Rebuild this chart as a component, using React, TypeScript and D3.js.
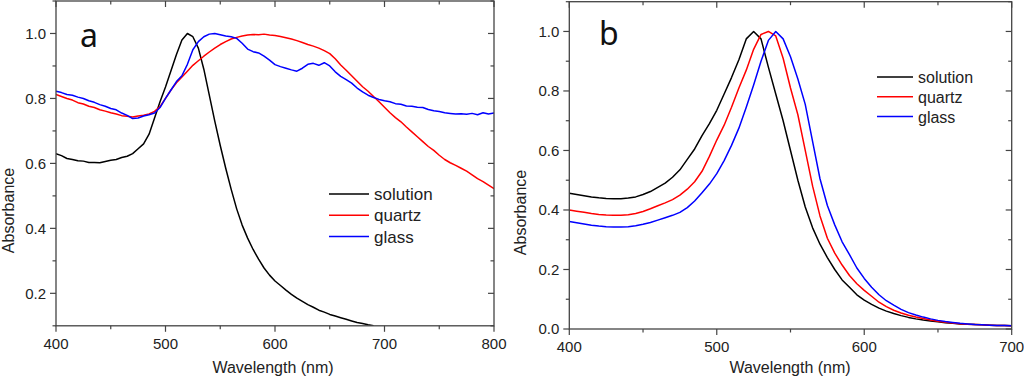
import React from "react";
import * as d3 from "d3";

// ---------- Panel a data (5 nm steps) ----------
const waveA: number[] = d3.range(400, 801, 5);
const waveASolution: number[] = d3.range(400, 691, 5);
const aSolution: number[] = [
  0.630, 0.624, 0.615, 0.612, 0.608, 0.607, 0.603, 0.603, 0.602, 0.606,
  0.610, 0.612, 0.618, 0.622, 0.630, 0.645, 0.660, 0.690, 0.740, 0.790,
  0.835, 0.885, 0.935, 0.980, 1.000, 0.990, 0.955, 0.890, 0.810, 0.730,
  0.655, 0.585, 0.520, 0.460, 0.410, 0.370, 0.335, 0.305, 0.278, 0.256,
  0.238, 0.224, 0.210, 0.197, 0.185, 0.175, 0.165, 0.157, 0.148, 0.142,
  0.135, 0.130, 0.125, 0.120, 0.115, 0.110, 0.107, 0.103, 0.100,
];
const aQuartz: number[] = [
  0.812, 0.806, 0.800, 0.795, 0.787, 0.783, 0.776, 0.772, 0.765, 0.761,
  0.756, 0.752, 0.747, 0.745, 0.743, 0.746, 0.748, 0.752, 0.760, 0.775,
  0.800, 0.826, 0.848, 0.866, 0.884, 0.902, 0.916, 0.930, 0.943, 0.955,
  0.966, 0.975, 0.983, 0.988, 0.992, 0.995, 0.997, 0.996, 0.998, 0.995,
  0.994, 0.991, 0.987, 0.983, 0.978, 0.972, 0.966, 0.961, 0.955, 0.947,
  0.938, 0.922, 0.903, 0.887, 0.870, 0.853, 0.836, 0.822, 0.806, 0.790,
  0.773, 0.756, 0.741, 0.728, 0.712, 0.697, 0.682, 0.667, 0.652, 0.640,
  0.625, 0.612, 0.602, 0.594, 0.585, 0.576, 0.565, 0.553, 0.544, 0.533,
  0.522,
];
const aGlass: number[] = [
  0.822, 0.818, 0.812, 0.810, 0.804, 0.800, 0.793, 0.788, 0.781, 0.776,
  0.769, 0.765, 0.755, 0.748, 0.738, 0.740, 0.746, 0.750, 0.755, 0.772,
  0.800, 0.826, 0.852, 0.870, 0.905, 0.950, 0.975, 0.990, 0.998, 1.000,
  0.996, 0.992, 0.990, 0.985, 0.970, 0.952, 0.944, 0.940, 0.930, 0.918,
  0.904, 0.898, 0.893, 0.888, 0.884, 0.893, 0.905, 0.908, 0.902, 0.910,
  0.900, 0.882, 0.868, 0.858, 0.847, 0.832, 0.820, 0.810, 0.803, 0.797,
  0.793, 0.790, 0.784, 0.782, 0.777, 0.776, 0.773, 0.772, 0.766, 0.762,
  0.760, 0.756, 0.754, 0.752, 0.753, 0.751, 0.754, 0.750, 0.756, 0.752,
  0.755,
];

// ---------- Panel b data (5 nm steps) ----------
const waveB: number[] = d3.range(400, 701, 5);
const bSolution: number[] = [
  0.456, 0.452, 0.448, 0.444, 0.441, 0.439, 0.438, 0.438, 0.440, 0.444,
  0.452, 0.462, 0.476, 0.490, 0.510, 0.535, 0.570, 0.605, 0.650, 0.690,
  0.735, 0.790, 0.845, 0.905, 0.975, 1.000, 0.975, 0.880, 0.790, 0.700,
  0.600, 0.500, 0.410, 0.340, 0.285, 0.240, 0.200, 0.165, 0.140, 0.115,
  0.097, 0.083, 0.070, 0.060, 0.052, 0.045, 0.039, 0.034, 0.030, 0.027,
  0.024, 0.021, 0.019, 0.017, 0.016, 0.015, 0.014, 0.013, 0.012, 0.012,
  0.011,
];
const bQuartz: number[] = [
  0.400, 0.396, 0.392, 0.388, 0.385, 0.383, 0.382, 0.382, 0.384, 0.388,
  0.395, 0.404, 0.414, 0.424, 0.435, 0.450, 0.470, 0.495, 0.530, 0.580,
  0.635, 0.685, 0.745, 0.810, 0.870, 0.940, 0.990, 1.000, 0.985, 0.910,
  0.810, 0.720, 0.600, 0.480, 0.380, 0.305, 0.255, 0.215, 0.180, 0.152,
  0.130, 0.110, 0.090, 0.075, 0.063, 0.054, 0.046, 0.040, 0.035, 0.030,
  0.026, 0.023, 0.020, 0.018, 0.016, 0.015, 0.014, 0.013, 0.012, 0.012,
  0.011,
];
const bGlass: number[] = [
  0.361, 0.357, 0.353, 0.349, 0.346, 0.344, 0.343, 0.343, 0.344, 0.347,
  0.352, 0.358, 0.366, 0.374, 0.382, 0.392, 0.408, 0.430, 0.458, 0.487,
  0.522, 0.566, 0.617, 0.675, 0.745, 0.820, 0.900, 0.970, 1.000, 0.975,
  0.915, 0.840, 0.755, 0.630, 0.505, 0.415, 0.350, 0.293, 0.250, 0.205,
  0.170, 0.140, 0.115, 0.095, 0.080, 0.066, 0.055, 0.047, 0.040, 0.034,
  0.029, 0.025, 0.022, 0.019, 0.017, 0.015, 0.014, 0.013, 0.012, 0.012,
  0.011,
];

const seriesNames = ["solution", "quartz", "glass"];
const seriesColors = ["#000000", "#ff0000", "#0000ff"];

const xTicksA = [400, 500, 600, 700, 800];
const xMinorA = [450, 550, 650, 750];
const yTicksA = [0.2, 0.4, 0.6, 0.8, 1.0];
const yMinorA = [0.1, 0.3, 0.5, 0.7, 0.9, 1.1];
const xTicksB = [400, 500, 600, 700];
const xMinorB = [450, 550, 650];
const yTicksB = [0.0, 0.2, 0.4, 0.6, 0.8, 1.0];
const yMinorB = [0.1, 0.3, 0.5, 0.7, 0.9, 1.1];

const FONT = "'Liberation Sans', Arial, sans-serif";
const AXIS = "#444";

type PanelProps = {
  x0: number; x1: number; y0: number; y1: number;
  xDom: [number, number]; yDom: [number, number];
  xTicks: number[]; xMinor: number[]; yTicks: number[]; yMinor: number[];
  series: { x: number[]; y: number[]; color: string }[];
  letter: string; letterX: number; letterY: number;
  legendX: number; legendY: number; legendGap: number; legendLen: number; legendFont: number;
  yTitleX: number; yTitleY: number; xTitleX: number;
};

function Panel(p: PanelProps) {
  const x = d3.scaleLinear().domain(p.xDom).range([p.x0, p.x1]);
  const y = d3.scaleLinear().domain(p.yDom).range([p.y1, p.y0]);
  const line = d3.line<[number, number]>().x((d) => x(d[0])).y((d) => y(d[1]));
  const major = 6, minor = 3.5;
  return (
    <g>
      <defs>
        <clipPath id={"clip" + p.letter}>
          <rect x={p.x0} y={p.y0} width={p.x1 - p.x0} height={p.y1 - p.y0} />
        </clipPath>
      </defs>
      <g clipPath={`url(#clip${p.letter})`}>
        {p.series.map((s, i) => (
          <path key={i} d={line(s.x.map((v, j) => [v, s.y[j]]) as [number, number][]) || ""}
            fill="none" stroke={s.color} strokeWidth={1.5} strokeLinejoin="round" />
        ))}
      </g>
      <rect x={p.x0} y={p.y0} width={p.x1 - p.x0} height={p.y1 - p.y0} fill="none" stroke={AXIS} strokeWidth={1.3} />
      {p.xTicks.map((t) => (
        <g key={"xt" + t}>
          <line x1={x(t)} x2={x(t)} y1={p.y1} y2={p.y1 + major} stroke={AXIS} strokeWidth={1.2} />
          <line x1={x(t)} x2={x(t)} y1={p.y0} y2={p.y0 + major} stroke={AXIS} strokeWidth={1.2} />
          <text x={x(t)} y={p.y1 + 23} textAnchor="middle" fontFamily={FONT} fontSize={15} fill="#222">{t}</text>
        </g>
      ))}
      {p.xMinor.map((t) => (
        <g key={"xm" + t}>
          <line x1={x(t)} x2={x(t)} y1={p.y1} y2={p.y1 + minor} stroke={AXIS} strokeWidth={1.2} />
          <line x1={x(t)} x2={x(t)} y1={p.y0} y2={p.y0 + minor} stroke={AXIS} strokeWidth={1.2} />
        </g>
      ))}
      {p.yTicks.map((t) => (
        <g key={"yt" + t}>
          <line x1={p.x0 - major} x2={p.x0} y1={y(t)} y2={y(t)} stroke={AXIS} strokeWidth={1.2} />
          <line x1={p.x1 - major} x2={p.x1} y1={y(t)} y2={y(t)} stroke={AXIS} strokeWidth={1.2} />
          <text x={p.x0 - 10} y={y(t)} dy="0.36em" textAnchor="end" fontFamily={FONT} fontSize={15} fill="#222">{t.toFixed(1)}</text>
        </g>
      ))}
      {p.yMinor.filter((t) => y(t) >= p.y0 - 0.5 && y(t) <= p.y1 + 0.5).map((t) => (
        <g key={"ym" + t}>
          <line x1={p.x0 - minor} x2={p.x0} y1={y(t)} y2={y(t)} stroke={AXIS} strokeWidth={1.2} />
          <line x1={p.x1 - minor} x2={p.x1} y1={y(t)} y2={y(t)} stroke={AXIS} strokeWidth={1.2} />
        </g>
      ))}
      <text x={p.xTitleX} y={373} textAnchor="middle" fontFamily={FONT} fontSize={16} fill="#222">Wavelength (nm)</text>
      <text transform={`translate(${p.yTitleX},${p.yTitleY}) rotate(-90)`} textAnchor="middle" fontFamily={FONT} fontSize={16} fill="#222">Absorbance</text>
      <text x={p.letterX} y={p.letterY} fontFamily="'Noto Sans', 'Open Sans', sans-serif" fontSize={32} fill="#111">{p.letter}</text>
      {seriesNames.map((n, i) => (
        <g key={n}>
          <line x1={p.legendX} x2={p.legendX + p.legendLen} y1={p.legendY + i * p.legendGap} y2={p.legendY + i * p.legendGap}
            stroke={seriesColors[i]} strokeWidth={1.5} />
          <text x={p.legendX + p.legendLen + 5} y={p.legendY + i * p.legendGap + 6} fontFamily={FONT} fontSize={p.legendFont} fill="#222">{n}</text>
        </g>
      ))}
    </g>
  );
}

export default function App() {
  return (
    <svg width={1024} height={378} style={{ position: "absolute", left: 0, top: 0, background: "#fff" }}>
      <rect width={1024} height={378} fill="#fff" />
      <Panel
        x0={56} x1={494} y0={1} y1={325.8}
        xDom={[400, 800]} yDom={[0.1, 1.1]}
        xTicks={xTicksA} xMinor={xMinorA} yTicks={yTicksA} yMinor={yMinorA}
        series={[
          { x: waveASolution, y: aSolution, color: seriesColors[0] },
          { x: waveA, y: aQuartz, color: seriesColors[1] },
          { x: waveA, y: aGlass, color: seriesColors[2] },
        ]}
        letter="a" letterX={80} letterY={46.5}
        legendX={329} legendY={194} legendGap={21.3} legendLen={40} legendFont={17}
        yTitleX={14} yTitleY={210.5} xTitleX={273}
      />
      <Panel
        x0={569.3} x1={1011.7} y0={1.7} y1={329}
        xDom={[400, 700]} yDom={[0, 1.1]}
        xTicks={xTicksB} xMinor={xMinorB} yTicks={yTicksB} yMinor={yMinorB}
        series={[
          { x: waveB, y: bSolution, color: seriesColors[0] },
          { x: waveB, y: bQuartz, color: seriesColors[1] },
          { x: waveB, y: bGlass, color: seriesColors[2] },
        ]}
        letter="b" letterX={599} letterY={45}
        legendX={877} legendY={77} legendGap={19.8} legendLen={36} legendFont={16}
        yTitleX={526} yTitleY={212.5} xTitleX={790}
      />
    </svg>
  );
}
